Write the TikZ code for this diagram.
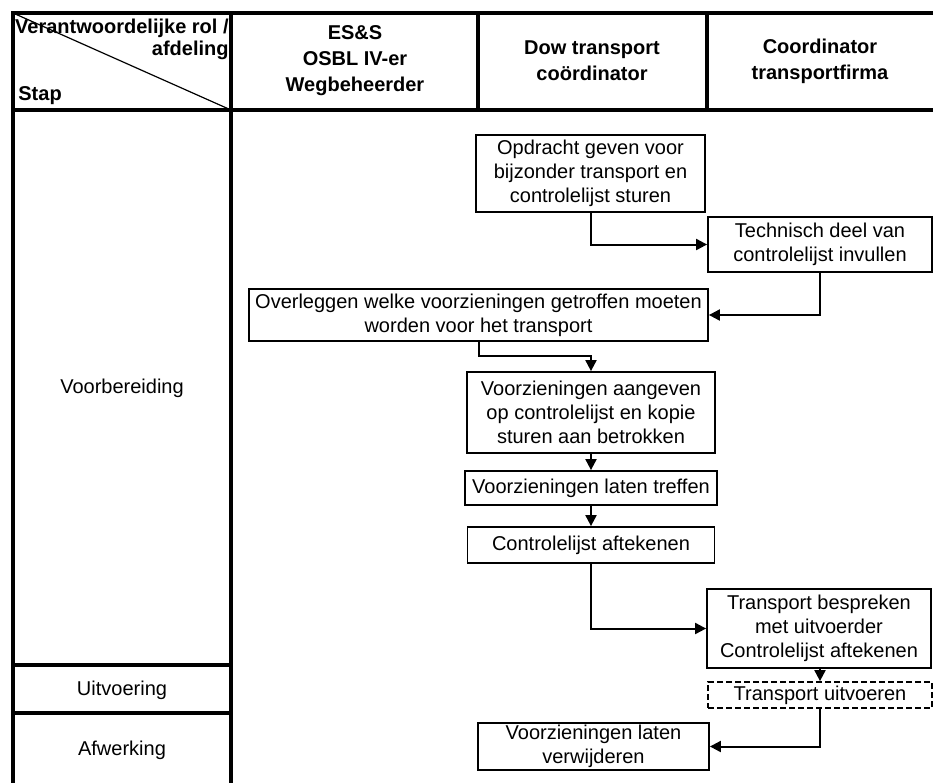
\documentclass[tikz,border=0pt]{standalone}
\usepackage{fontspec}
\setmainfont{Liberation Sans}
\usetikzlibrary{arrows.meta}

\begin{document}
\begin{tikzpicture}[x=0.5pt, y=-0.5pt,
    >={Triangle[length=5.5pt, width=5.5pt]},
    rooster/.style={line width=2pt},
    kop/.style={font=\bfseries\fontsize{10}{13}\selectfont, align=center, inner sep=0pt},
    fase/.style={font=\fontsize{10}{12}\selectfont, inner sep=0pt},
    stapbox/.style={draw, line width=0.9pt, align=center, inner sep=0pt, font=\fontsize{10}{12}\selectfont},
    pijl/.style={->, line width=1pt}]
    \useasboundingbox (0,0) rectangle (933,783);

    \draw[rooster] (933,13) -- (13,13) -- (13,783);
    \draw[rooster] (13,110) -- (933,110);
    \draw[rooster] (231,13) -- (231,783);
    \draw[rooster] (478,13) -- (478,110);
    \draw[rooster] (707,13) -- (707,110);
    \draw[rooster] (13,665) -- (231,665);
    \draw[rooster] (13,713) -- (231,713);
    \draw[line width=0.6pt] (13,13) -- (231,110);

    \node[kop, anchor=base east] (rol) at (229,33){Verantwoordelijke rol /};
    \node[kop, anchor=base east] (afd) at (229,55){afdeling};
    \node[kop, anchor=base west] (stap) at (18,100){Stap};
    \node[kop] (ess) at (355,61){ES\&S\\OSBL IV-er\\Wegbeheerder};
    \node[kop] (dow) at (592,61){Dow transport\\coördinator};
    \node[kop] (firma) at (820,61){Coordinator\\transportfirma};

    \node[fase] (voorb) at (122,388){Voorbereiding};
    \node[fase] (uitvoering) at (122,690){Uitvoering};
    \node[fase] (afwerking) at (122,750){Afwerking};

    \node[stapbox, minimum width=114.5pt, minimum height=38.5pt] (opdr) at (590.5,173.5){Opdracht geven voor\\bijzonder transport en\\controlelijst sturen};
    \node[stapbox, minimum width=112pt, minimum height=27.5pt] (techn) at (820,244.5){Technisch deel van\\controlelijst invullen};
    \node[stapbox, minimum width=229.5pt, minimum height=26pt] (overl) at (478.5,315){Overleggen welke voorzieningen getroffen moeten\\worden voor het transport};
    \node[stapbox, minimum width=124pt, minimum height=40.5pt] (aang) at (591,412.5){Voorzieningen aangeven\\op controlelijst en kopie\\sturen aan betrokken};
    \node[stapbox, minimum width=126pt, minimum height=17pt] (treff) at (591,488){Voorzieningen laten treffen};
    \node[stapbox, minimum width=123.5pt, minimum height=18pt] (contr) at (591,545){Controlelijst aftekenen};
    \node[stapbox, minimum width=112pt, minimum height=39.5pt] (bespr) at (819,628.5){Transport bespreken\\met uitvoerder\\Controlelijst aftekenen};
    \node[stapbox, dash pattern=on 3pt off 1.5pt, minimum width=112pt, minimum height=13pt] (uitv) at (820,695){Transport uitvoeren};
    \node[stapbox, minimum width=115.5pt, minimum height=23.5pt] (verw) at (593.5,746.5){Voorzieningen laten\\verwijderen};

    \draw[pijl] (opdr) |- (techn);
    \draw[pijl] (techn) |- (overl);
    \draw[pijl] (overl.south) -- ++(0,14) -| (aang.north);
    \draw[pijl] (aang) -- (treff);
    \draw[pijl] (treff) -- (contr);
    \draw[pijl] (contr) |- (bespr);
    \draw[pijl] (bespr.south -| uitv.north) -- (uitv.north);
    \draw[pijl] (uitv) |- (verw);
\end{tikzpicture}
\end{document}
